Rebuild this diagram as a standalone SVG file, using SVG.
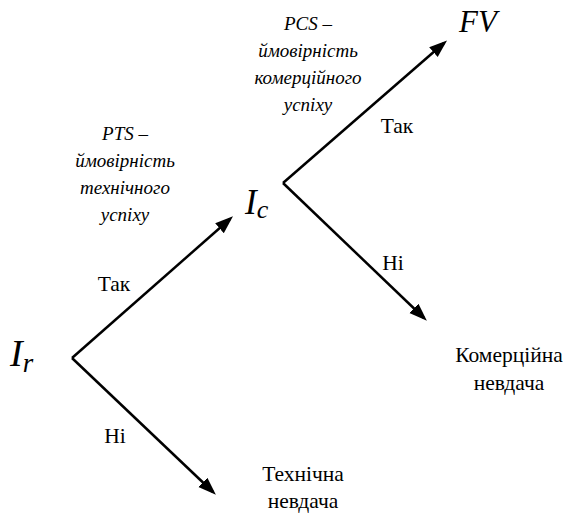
<svg xmlns="http://www.w3.org/2000/svg" width="576" height="517" viewBox="0 0 576 517">
<defs>
<marker id="arr" markerUnits="userSpaceOnUse" markerWidth="18" markerHeight="14" refX="14" refY="6.5" orient="auto">
<path d="M0,0 L18,6.5 L0,13 z" fill="#000"/>
</marker>
<style>
text{font-family:'Liberation Serif','Times New Roman',serif;fill:#000}
.t{font-size:21.5px;text-anchor:middle}
.i{font-size:19px;font-style:italic;text-anchor:middle}
.v{font-style:italic}
.c{stroke:#000;stroke-width:2.5;fill:none;marker-end:url(#arr)}
</style>
</defs>
<rect width="576" height="517" fill="#fff"/>
<g id="connectors">
<line class="c" x1="72" y1="358" x2="230" y2="219"/>
<line class="c" x1="72" y1="358" x2="213" y2="492"/>
<line class="c" x1="283" y1="183" x2="444" y2="43"/>
<line class="c" x1="283" y1="183" x2="424" y2="318"/>
</g>
<g id="node-Ir"><text class="v" x="10" y="366" font-size="38">I<tspan font-size="27" dy="6">r</tspan></text></g>
<g id="node-Ic"><text class="v" x="245" y="214" font-size="35">I<tspan font-size="26" dy="4">c</tspan></text></g>
<g id="node-FV"><text class="v" x="459" y="32" font-size="31">FV</text></g>
<g id="node-tech-fail"><text class="t" x="303" y="481">Технічна</text><text class="t" x="303" y="508">невдача</text></g>
<g id="node-comm-fail"><text class="t" x="509" y="362">Комерційна</text><text class="t" x="509" y="390">невдача</text></g>
<g id="label-PTS"><text class="i" x="125" y="140">PTS –</text><text class="i" x="125" y="167">ймовірність</text><text class="i" x="125" y="194">технічного</text><text class="i" x="125" y="221">успіху</text></g>
<g id="label-PCS"><text class="i" x="308" y="30">PCS –</text><text class="i" x="308" y="57">ймовірність</text><text class="i" x="308" y="84">комерційного</text><text class="i" x="308" y="111">успіху</text></g>
<g id="edge-labels">
<text class="t" x="114" y="291">Так</text>
<text class="t" x="115" y="443">Ні</text>
<text class="t" x="397" y="133">Так</text>
<text class="t" x="393" y="270">Ні</text>
</g>
</svg>
